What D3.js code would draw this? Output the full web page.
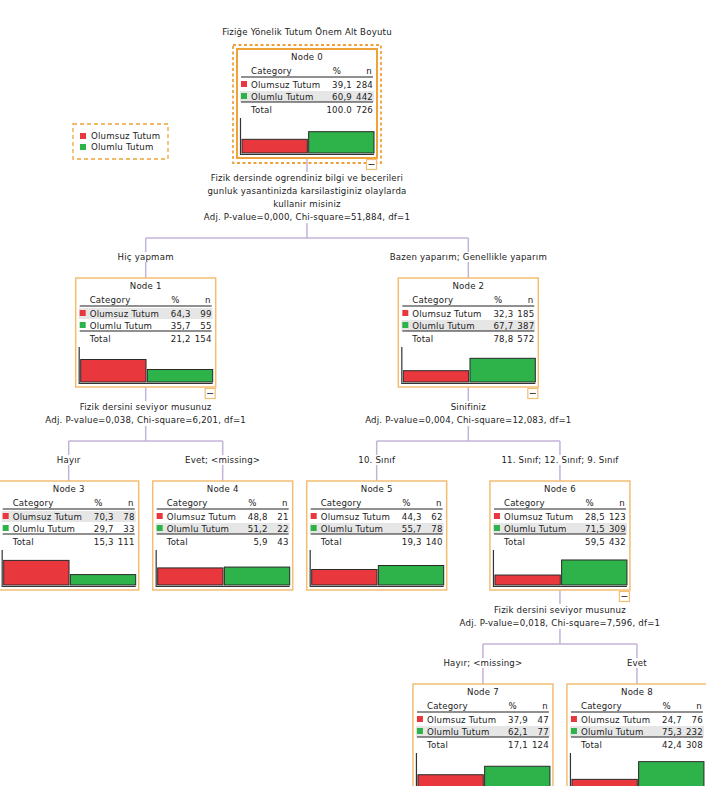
<!DOCTYPE html>
<html>
<head>
<meta charset="utf-8">
<script src="https://cdn.jsdelivr.net/npm/d3@7"></script>
<style>
  body { margin: 0; background: #fff; }
  text { font-family: "DejaVu Sans", Verdana, sans-serif; fill: #222; letter-spacing: 0.2px; }
</style>
</head>
<body>
<script>
// ---------------- DATA ----------------
const chartTitle = "Fiziğe Yönelik Tutum Önem Alt Boyutu";
const categories = ["Olumsuz Tutum", "Olumlu Tutum"];
const nodeIds = [0, 1, 2, 3, 4, 5, 6, 7, 8];
const parentIds = [null, 0, 0, 1, 1, 2, 2, 6, 6];
const olumsuzPct = [39.1, 64.3, 32.3, 70.3, 48.8, 44.3, 28.5, 37.9, 24.7];
const olumsuzN   = [284, 99, 185, 78, 21, 62, 123, 47, 76];
const olumluPct  = [60.9, 35.7, 67.7, 29.7, 51.2, 55.7, 71.5, 62.1, 75.3];
const olumluN    = [442, 55, 387, 33, 22, 78, 309, 77, 232];
const totalPct   = [100.0, 21.2, 78.8, 15.3, 5.9, 19.3, 59.5, 17.1, 42.4];
const totalN     = [726, 154, 572, 111, 43, 140, 432, 124, 308];
const edgeLabels = ["", "Hiç yapmam", "Bazen yaparım; Genellikle yaparım", "Hayır", "Evet; <missing>",
                    "10. Sınıf", "11. Sınıf; 12. Sınıf; 9. Sınıf", "Hayır; <missing>", "Evet"];
const splitTexts = [
  ["Fizik dersinde ogrendiniz bilgi ve becerileri", "gunluk yasantinizda karsilastiginiz olaylarda", "kullanir misiniz", "Adj. P-value=0,000, Chi-square=51,884, df=1"],
  ["Fizik dersini seviyor musunuz", "Adj. P-value=0,038, Chi-square=6,201, df=1"],
  ["Sinifiniz", "Adj. P-value=0,004, Chi-square=12,083, df=1"],
  [], [], [],
  ["Fizik dersini seviyor musunuz", "Adj. P-value=0,018, Chi-square=7,596, df=1"],
  [], []
];

// ---------------- STYLE / LAYOUT ----------------
const W = 706, H = 786;
const BOX_W = 140, BOX_H = 109;
const colors = ["#e8383d", "#2eb24a"];
const lineColor = "#c3b3da";
const orange = "#f0a23a", orangeLight = "#f4bd72";
const FS = 8.6;

const svg = d3.select("body").append("svg").attr("width", W).attr("height", H);

const rows = nodeIds.map(i => ({ id: i, parent: parentIds[i] }));
const root = d3.stratify()
  .id(d => String(d.id))
  .parentId(d => d.parent == null ? null : String(d.parent))(rows);

d3.tree().nodeSize([154, 100])
  .separation((a, b) => (a.children || b.children) ? 1.19 : 1)(root);

const centerX = 307;
root.each(n => { n.cx = centerX + n.x; });
root.top = 49;
function splitGeom(n) {
  const L = splitTexts[n.data.id].length;
  const bottom = n.top + BOX_H;
  const lineY = i => bottom + 20 + 13 * i;
  const hy = bottom + 20 + 13 * (L - 1) + 21;
  return { L, bottom, lineY, hy, childTop: hy + 40, labelY: hy + 19 };
}
root.eachBefore(n => { if (n.parent) n.top = splitGeom(n.parent).childTop; });

const fmt = v => v === 100 ? "100.0" : d3.format(".1f")(v).replace(".", ",");

// Title
svg.append("text").attr("x", centerX).attr("y", 32).attr("text-anchor", "middle")
  .attr("dominant-baseline", "central").style("font-size", FS + "px").text(chartTitle);

// Legend
const lg = svg.append("g");
lg.append("rect").attr("x", 73).attr("y", 124).attr("width", 95).attr("height", 35)
  .attr("fill", "none").attr("stroke", orange).attr("stroke-width", 1.3).attr("stroke-dasharray", "4,3");
categories.forEach((c, i) => {
  lg.append("rect").attr("x", 80).attr("y", 133 + i * 11).attr("width", 6).attr("height", 6).attr("fill", colors[i]);
  lg.append("text").attr("x", 91).attr("y", 136 + i * 11).attr("dominant-baseline", "central")
    .style("font-size", FS + "px").text(c);
});

// Connectors
const linkG = svg.append("g");
const textG = svg.append("g");
root.each(n => {
  if (!n.children) return;
  const g = splitGeom(n);
  linkG.append("line").attr("x1", n.cx).attr("x2", n.cx).attr("y1", g.bottom).attr("y2", g.hy)
    .attr("stroke", lineColor).attr("stroke-width", 1.5);
  const xs = n.children.map(c => c.cx);
  linkG.append("line").attr("x1", d3.min(xs)).attr("x2", d3.max(xs)).attr("y1", g.hy).attr("y2", g.hy)
    .attr("stroke", lineColor).attr("stroke-width", 1.5);
  n.children.forEach(c => {
    linkG.append("line").attr("x1", c.cx).attr("x2", c.cx).attr("y1", g.hy).attr("y2", c.top)
      .attr("stroke", lineColor).attr("stroke-width", 1.5);
    const t = textG.append("text").attr("x", c.cx).attr("y", g.labelY).attr("text-anchor", "middle")
      .attr("dominant-baseline", "central").style("font-size", FS + "px").text(edgeLabels[c.data.id]);
    const bb = t.node().getBBox();
    textG.insert("rect", "text").attr("x", bb.x - 2).attr("y", bb.y).attr("width", bb.width + 4)
      .attr("height", bb.height).attr("fill", "#fff");
  });
  const lines = splitTexts[n.data.id];
  const sg = textG.append("g");
  lines.forEach((s, i) => {
    sg.append("text").attr("x", n.cx).attr("y", g.lineY(i)).attr("text-anchor", "middle")
      .attr("dominant-baseline", "central").style("font-size", FS + "px").text(s);
  });
  const bb = sg.node().getBBox();
  sg.insert("rect", "text").attr("x", bb.x - 2).attr("y", bb.y - 1).attr("width", bb.width + 4)
    .attr("height", bb.height + 2).attr("fill", "#fff");
});
textG.raise();

// Nodes
const nodeG = svg.append("g");
root.each(n => {
  const id = n.data.id;
  const x0 = n.cx - BOX_W / 2, y0 = n.top;
  const g = nodeG.append("g");
  const isRoot = !n.parent;
  g.append("rect").attr("x", x0).attr("y", y0).attr("width", BOX_W).attr("height", BOX_H)
    .attr("fill", "#fff").attr("stroke", isRoot ? orange : orangeLight).attr("stroke-width", isRoot ? 2 : 1.5);
  if (isRoot) {
    g.append("rect").attr("x", x0 - 4).attr("y", y0 - 4).attr("width", BOX_W + 8).attr("height", BOX_H + 9)
      .attr("fill", "none").attr("stroke", orange).attr("stroke-width", 1.8).attr("stroke-dasharray", "3,2.5");
  }
  g.append("text").attr("x", n.cx).attr("y", y0 + 8).attr("text-anchor", "middle")
    .attr("dominant-baseline", "central").style("font-size", FS + "px").text("Node " + id);
  // header
  g.append("text").attr("x", x0 + 14).attr("y", y0 + 22).attr("dominant-baseline", "central")
    .style("font-size", FS + "px").text("Category");
  g.append("text").attr("x", x0 + 104).attr("y", y0 + 22).attr("text-anchor", "end").attr("dominant-baseline", "central")
    .style("font-size", FS + "px").text("%");
  g.append("text").attr("x", x0 + 135).attr("y", y0 + 22).attr("text-anchor", "end").attr("dominant-baseline", "central")
    .style("font-size", FS + "px").text("n");
  g.append("line").attr("x1", x0 + 4).attr("x2", x0 + 136).attr("y1", y0 + 28).attr("y2", y0 + 28)
    .attr("stroke", "#222").attr("stroke-width", 1.2);
  const pcts = [olumsuzPct[id], olumluPct[id]];
  const ns = [olumsuzN[id], olumluN[id]];
  const maxI = pcts[0] >= pcts[1] ? 0 : 1;
  categories.forEach((c, i) => {
    const cy = y0 + 35.5 + i * 12;
    if (i === maxI) {
      g.append("rect").attr("x", x0 + 3).attr("y", cy - 5.5).attr("width", 134).attr("height", 11).attr("fill", "#e6e6e6");
    }
    g.append("rect").attr("x", x0 + 4).attr("y", cy - 3.5).attr("width", 6).attr("height", 6).attr("fill", colors[i]);
    g.append("text").attr("x", x0 + 14).attr("y", cy).attr("dominant-baseline", "central")
      .style("font-size", FS + "px").text(c);
    g.append("text").attr("x", x0 + 115).attr("y", cy).attr("text-anchor", "end").attr("dominant-baseline", "central")
      .style("font-size", FS + "px").text(fmt(pcts[i]));
    g.append("text").attr("x", x0 + 136).attr("y", cy).attr("text-anchor", "end").attr("dominant-baseline", "central")
      .style("font-size", FS + "px").text(ns[i]);
  });
  g.append("line").attr("x1", x0 + 4).attr("x2", x0 + 136).attr("y1", y0 + 53).attr("y2", y0 + 53)
    .attr("stroke", "#222").attr("stroke-width", 1.2);
  g.append("text").attr("x", x0 + 14).attr("y", y0 + 61).attr("dominant-baseline", "central")
    .style("font-size", FS + "px").text("Total");
  g.append("text").attr("x", x0 + 115).attr("y", y0 + 61).attr("text-anchor", "end").attr("dominant-baseline", "central")
    .style("font-size", FS + "px").text(fmt(totalPct[id]));
  g.append("text").attr("x", x0 + 136).attr("y", y0 + 61).attr("text-anchor", "end").attr("dominant-baseline", "central")
    .style("font-size", FS + "px").text(totalN[id]);
  // bars
  const xb = d3.scaleBand().domain(categories).range([x0 + 5, x0 + 137]).paddingInner(0.02);
  const yb = d3.scaleLinear().domain([0, 100]).range([y0 + 104, y0 + 69]);
  g.append("line").attr("x1", x0 + 3.5).attr("x2", x0 + 3.5).attr("y1", yb(100)).attr("y2", y0 + 106)
    .attr("stroke", "#333").attr("stroke-width", 1.2);
  g.append("line").attr("x1", x0 + 3.5).attr("x2", x0 + 137).attr("y1", y0 + 105.5).attr("y2", y0 + 105.5)
    .attr("stroke", "#333").attr("stroke-width", 1.2);
  g.selectAll("rect.bar").data(categories).join("rect").attr("class", "bar")
    .attr("x", c => xb(c)).attr("width", xb.bandwidth())
    .attr("y", (c, i) => yb(pcts[i])).attr("height", (c, i) => yb(0) - yb(pcts[i]))
    .attr("fill", (c, i) => colors[i]).attr("stroke", "#2a2a2a").attr("stroke-width", 1);
  // collapse button
  if (n.children) {
    g.append("rect").attr("x", x0 + 129.5).attr("y", y0 + BOX_H + 1.5).attr("width", 10).attr("height", 10)
      .attr("fill", "#fff").attr("stroke", orangeLight).attr("stroke-width", 1.2);
    g.append("line").attr("x1", x0 + 131.5).attr("x2", x0 + 137.5).attr("y1", y0 + BOX_H + 6.5).attr("y2", y0 + BOX_H + 6.5)
      .attr("stroke", "#444").attr("stroke-width", 1);
  }
});
</script>
</body>
</html>
